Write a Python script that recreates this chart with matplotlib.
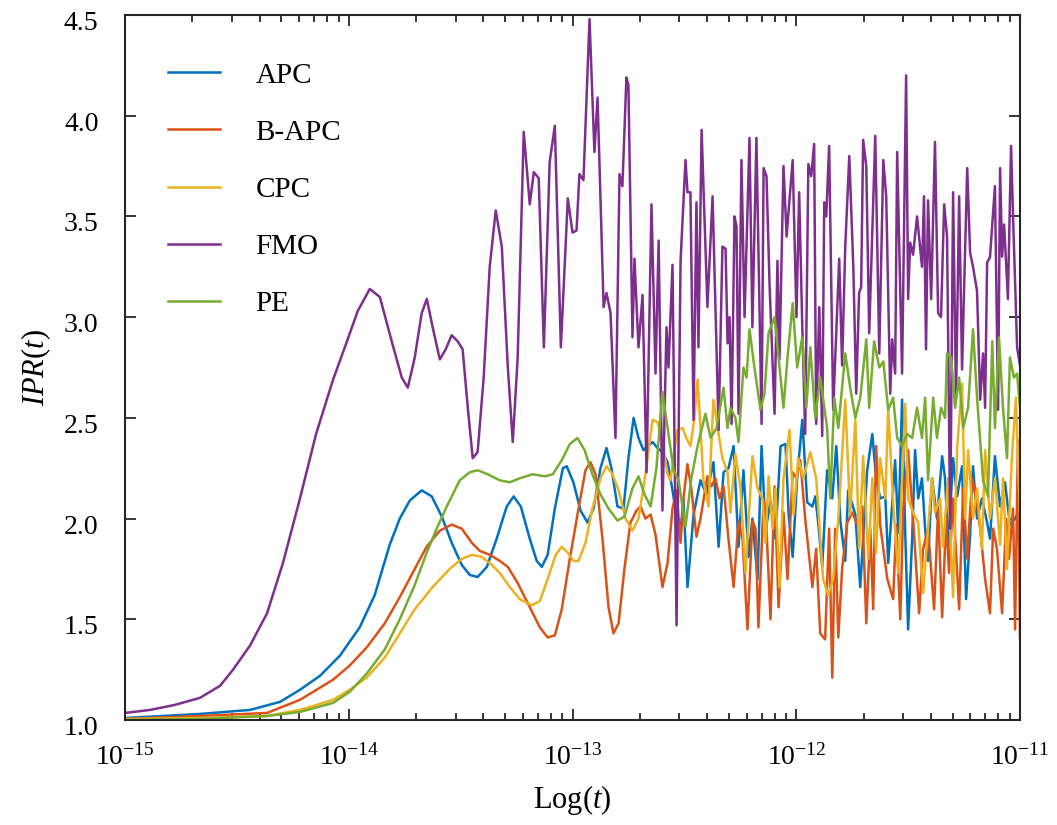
import numpy as np
import matplotlib
matplotlib.use("Agg")
import matplotlib.pyplot as plt
from matplotlib.ticker import LogLocator, FixedLocator, FuncFormatter, NullFormatter
from matplotlib.transforms import ScaledTranslation

plt.rcParams['font.family'] = ['Liberation Serif', 'DejaVu Serif']
plt.rcParams['mathtext.fontset'] = 'custom'
plt.rcParams['mathtext.rm'] = 'Liberation Serif'
plt.rcParams['mathtext.it'] = 'Liberation Serif:italic'
plt.rcParams['mathtext.bf'] = 'Liberation Serif:bold'

labels = ['APC', 'B-APC', 'CPC', 'FMO', 'PE']
colors = ['#0072BD', '#D95319', '#EDB120', '#7E2F8E', '#77AC30']

# log10(t) and IPR values
apc_logt = [-15.000, -14.665, -14.441, -14.307, -14.218, -14.128, -14.039, -13.951, -13.884, -13.817,
            -13.772, -13.727, -13.674, -13.629, -13.584, -13.540, -13.495, -13.459, -13.424, -13.383,
            -13.339, -13.294, -13.263, -13.231, -13.191, -13.160, -13.137, -13.111, -13.079, -13.043,
            -13.026, -12.996, -12.964, -12.933, -12.906, -12.875, -12.848, -12.826, -12.799, -12.772,
            -12.750, -12.727, -12.705, -12.683, -12.642, -12.620, -12.598, -12.575, -12.553, -12.531,
            -12.517, -12.504, -12.486, -12.459, -12.428, -12.401, -12.370, -12.347, -12.325, -12.303,
            -12.280, -12.258, -12.236, -12.213, -12.196, -12.173, -12.155, -12.137, -12.115, -12.093,
            -12.070, -12.048, -12.034, -12.016, -11.996, -11.973, -11.951, -11.928, -11.915, -11.902,
            -11.884, -11.862, -11.839, -11.821, -11.803, -11.781, -11.768, -11.736, -11.714, -11.683,
            -11.660, -11.643, -11.625, -11.602, -11.589, -11.558, -11.544, -11.527, -11.513, -11.500,
            -11.482, -11.469, -11.455, -11.438, -11.424, -11.411, -11.393, -11.371, -11.348, -11.335,
            -11.321, -11.299, -11.281, -11.259, -11.241, -11.223, -11.210, -11.192, -11.170, -11.147,
            -11.134, -11.112, -11.089, -11.067, -11.045, -11.022, -11.000]
apc_ipr = [1.01, 1.03, 1.05, 1.09, 1.15, 1.22, 1.32, 1.46, 1.62, 1.87,
           2.00, 2.09, 2.14, 2.11, 2.01, 1.88, 1.77, 1.72, 1.71, 1.76,
           1.90, 2.06, 2.11, 2.06, 1.90, 1.79, 1.76, 1.82, 2.05, 2.25,
           2.26, 2.18, 2.04, 1.98, 2.05, 2.25, 2.35, 2.25, 2.06, 2.05,
           2.30, 2.50, 2.40, 2.34, 2.38, 2.35, 2.33, 2.28, 2.14, 1.98,
           1.94, 2.09, 1.66, 2.02, 2.19, 2.12, 2.28, 1.86, 2.23, 2.25,
           2.36, 1.86, 2.24, 1.81, 2.00, 1.70, 2.36, 1.94, 2.09, 1.90,
           2.36, 2.37, 2.02, 1.81, 2.20, 2.49, 2.08, 2.06, 2.11, 1.98,
           1.76, 2.24, 2.10, 2.36, 1.99, 1.79, 2.14, 2.02, 1.66, 2.24,
           2.42, 2.20, 2.10, 2.11, 1.78, 2.29, 1.93, 2.59, 1.93, 1.45,
           1.90, 2.34, 2.10, 2.20, 1.95, 1.79, 2.20, 2.00, 2.31, 2.20,
           1.86, 2.30, 2.11, 2.26, 1.60, 1.92, 2.26, 2.00, 2.10, 1.98,
           1.90, 2.31, 2.06, 2.18, 1.97, 2.00, 2.05]

bapc_logt = [-15.000, -14.665, -14.365, -14.218, -14.070, -13.996, -13.920, -13.839, -13.772, -13.705,
             -13.652, -13.593, -13.540, -13.495, -13.450, -13.415, -13.370, -13.325, -13.289, -13.245,
             -13.191, -13.146, -13.111, -13.079, -13.048, -13.012, -12.973, -12.942, -12.920, -12.897,
             -12.866, -12.839, -12.817, -12.794, -12.768, -12.741, -12.714, -12.696, -12.674, -12.651,
             -12.629, -12.598, -12.575, -12.553, -12.535, -12.517, -12.504, -12.486, -12.469, -12.446,
             -12.428, -12.397, -12.379, -12.361, -12.343, -12.325, -12.303, -12.280, -12.258, -12.240,
             -12.218, -12.196, -12.182, -12.169, -12.146, -12.133, -12.115, -12.097, -12.079, -12.057,
             -12.039, -12.016, -11.999, -11.982, -11.960, -11.928, -11.911, -11.893, -11.871, -11.853,
             -11.839, -11.826, -11.812, -11.795, -11.772, -11.750, -11.727, -11.705, -11.687, -11.669,
             -11.656, -11.643, -11.625, -11.593, -11.567, -11.553, -11.535, -11.522, -11.500, -11.478,
             -11.451, -11.433, -11.411, -11.384, -11.366, -11.348, -11.330, -11.317, -11.299, -11.272,
             -11.254, -11.236, -11.214, -11.196, -11.178, -11.156, -11.134, -11.120, -11.103, -11.080,
             -11.062, -11.049, -11.031, -11.022, -11.009, -11.000]
bapc_ipr = [1.005, 1.02, 1.035, 1.10, 1.20, 1.27, 1.36, 1.48, 1.61, 1.75,
            1.86, 1.94, 1.97, 1.95, 1.88, 1.84, 1.82, 1.79, 1.76, 1.68,
            1.56, 1.46, 1.41, 1.42, 1.55, 1.80, 2.05, 2.24, 2.28, 2.22,
            1.90, 1.56, 1.43, 1.48, 1.75, 1.98, 2.04, 2.06, 2.00, 2.02,
            1.92, 1.66, 1.78, 2.05, 2.14, 1.88, 2.10, 2.27, 2.15, 1.91,
            2.00, 2.21, 2.16, 2.20, 2.10, 2.16, 1.90, 1.66, 1.99, 1.90,
            1.45, 1.99, 1.95, 1.46, 2.09, 1.95, 1.50, 2.16, 1.56, 2.03,
            1.70, 2.23, 2.20, 2.29, 2.00, 1.66, 1.85, 1.43, 1.40, 1.95,
            1.21, 1.95, 1.41, 1.75, 1.98, 2.03, 1.97, 2.06, 1.48, 1.95,
            1.55, 2.36, 1.97, 1.70, 1.60, 1.97, 1.50, 2.05, 2.34, 2.00,
            1.53, 1.85, 1.95, 1.55, 2.05, 1.51, 2.00, 1.73, 2.10, 1.55,
            2.15, 1.80, 2.20, 2.10, 1.95, 1.70, 1.53, 1.95, 1.85, 1.53,
            2.00, 1.80, 2.05, 1.45, 2.39, 1.41]

cpc_logt = [-15.000, -14.665, -14.365, -14.218, -14.070, -13.996, -13.920, -13.839, -13.772, -13.705,
            -13.625, -13.549, -13.495, -13.450, -13.405, -13.361, -13.325, -13.280, -13.236, -13.182,
            -13.146, -13.111, -13.075, -13.048, -13.021, -12.996, -12.973, -12.942, -12.911, -12.875,
            -12.848, -12.821, -12.794, -12.763, -12.732, -12.705, -12.674, -12.642, -12.620, -12.598,
            -12.575, -12.562, -12.549, -12.531, -12.508, -12.491, -12.473, -12.455, -12.441, -12.428,
            -12.415, -12.392, -12.370, -12.347, -12.330, -12.307, -12.294, -12.272, -12.249, -12.227,
            -12.196, -12.173, -12.151, -12.137, -12.124, -12.106, -12.093, -12.075, -12.057, -12.030,
            -12.012, -11.991, -11.969, -11.937, -11.911, -11.880, -11.857, -11.835, -11.812, -11.781,
            -11.759, -11.736, -11.719, -11.701, -11.678, -11.660, -11.643, -11.625, -11.602, -11.589,
            -11.567, -11.544, -11.513, -11.500, -11.478, -11.455, -11.433, -11.411, -11.393, -11.380,
            -11.357, -11.344, -11.321, -11.299, -11.281, -11.259, -11.245, -11.232, -11.210, -11.192,
            -11.170, -11.156, -11.134, -11.112, -11.089, -11.076, -11.058, -11.036, -11.018, -11.000]
cpc_ipr = [1.005, 1.01, 1.02, 1.05, 1.10, 1.15, 1.21, 1.31, 1.43, 1.55,
           1.66, 1.75, 1.80, 1.82, 1.81, 1.77, 1.73, 1.66, 1.60, 1.57,
           1.59, 1.70, 1.82, 1.86, 1.83, 1.79, 1.79, 1.88, 2.05, 2.20,
           2.26, 2.22, 2.14, 2.00, 1.94, 2.00, 2.22, 2.49, 2.48, 2.38,
           2.22, 2.19, 2.30, 2.44, 2.45, 2.40, 2.36, 2.50, 2.69, 2.45,
           2.19, 2.06, 2.59, 2.42, 2.30, 2.23, 2.03, 2.32, 2.15, 1.73,
           2.31, 2.15, 2.10, 1.88, 2.21, 1.95, 2.15, 1.66, 2.20, 2.44,
           2.02, 2.30, 2.20, 2.33, 2.20, 1.70, 1.62, 1.70, 2.00, 2.59,
           2.02, 2.49, 1.85, 2.31, 1.80, 2.20, 1.83, 2.30, 2.10, 2.55,
           2.08, 1.73, 2.57, 2.10, 2.03, 1.98, 1.63, 1.95, 2.20, 2.03,
           2.10, 1.86, 2.20, 1.61, 2.35, 2.67, 2.00, 2.34, 2.00, 2.15,
           1.85, 2.34, 2.00, 2.20, 1.87, 2.20, 1.75, 2.31, 2.60, 2.00]

fmo_logt = [-15.000, -14.888, -14.777, -14.665, -14.575, -14.517, -14.441, -14.365, -14.294, -14.218,
            -14.146, -14.070, -14.008, -13.960, -13.906, -13.861, -13.808, -13.763, -13.736, -13.705,
            -13.674, -13.651, -13.625, -13.593, -13.567, -13.540, -13.513, -13.491, -13.468, -13.446,
            -13.424, -13.397, -13.370, -13.343, -13.316, -13.289, -13.267, -13.245, -13.218, -13.191,
            -13.173, -13.151, -13.128, -13.102, -13.079, -13.052, -13.021, -13.000, -12.982, -12.969,
            -12.951, -12.924, -12.902, -12.888, -12.861, -12.848, -12.830, -12.808, -12.790, -12.777,
            -12.759, -12.750, -12.732, -12.723, -12.705, -12.687, -12.669, -12.647, -12.629, -12.615,
            -12.598, -12.580, -12.571, -12.553, -12.535, -12.517, -12.495, -12.486, -12.473, -12.459,
            -12.446, -12.437, -12.423, -12.397, -12.374, -12.347, -12.330, -12.316, -12.307, -12.298,
            -12.289, -12.276, -12.267, -12.258, -12.245, -12.231, -12.209, -12.196, -12.178, -12.155,
            -12.146, -12.133, -12.119, -12.097, -12.084, -12.075, -12.057, -12.043, -12.034, -12.016,
            -11.999, -11.987, -11.973, -11.960, -11.946, -11.933, -11.920, -11.911, -11.897, -11.884,
            -11.875, -11.866, -11.853, -11.835, -11.808, -11.795, -11.781, -11.763, -11.745, -11.732,
            -11.719, -11.710, -11.701, -11.687, -11.674, -11.647, -11.629, -11.611, -11.598, -11.580,
            -11.571, -11.558, -11.549, -11.527, -11.509, -11.500, -11.491, -11.478, -11.460, -11.438,
            -11.429, -11.420, -11.411, -11.397, -11.380, -11.366, -11.353, -11.339, -11.326, -11.312,
            -11.299, -11.286, -11.272, -11.259, -11.236, -11.223, -11.210, -11.192, -11.178, -11.165,
            -11.156, -11.147, -11.134, -11.112, -11.098, -11.089, -11.080, -11.071, -11.054, -11.040,
            -11.031, -11.013, -11.000]
fmo_ipr = [1.035, 1.05, 1.075, 1.11, 1.17, 1.25, 1.37, 1.53, 1.78, 2.10,
           2.42, 2.69, 2.88, 3.03, 3.14, 3.10, 2.88, 2.70, 2.65, 2.80,
           3.02, 3.09, 2.95, 2.79, 2.84, 2.91, 2.88, 2.84, 2.55, 2.30,
           2.33, 2.70, 3.25, 3.53, 3.35, 2.75, 2.38, 2.80, 3.92, 3.56,
           3.72, 3.69, 2.85, 3.77, 3.95, 2.85, 3.59, 3.42, 3.43, 3.71,
           3.68, 4.48, 3.82, 4.09, 3.05, 3.12, 3.02, 2.40, 3.71, 3.65,
           4.19, 4.15, 2.90, 3.29, 2.85, 3.11, 2.23, 3.56, 2.72, 3.38,
           2.04, 2.95, 2.75, 3.26, 1.47, 3.28, 3.78, 3.62, 3.62, 2.49,
           3.57, 2.85, 3.93, 3.05, 3.60, 2.44, 3.35, 3.34, 2.87, 3.00,
           2.47, 3.50, 3.45, 2.52, 3.78, 3.00, 3.89, 2.95, 3.89, 2.47,
           3.74, 3.70, 3.15, 2.52, 3.28, 2.79, 3.75, 3.40, 3.53, 3.78,
           3.00, 3.62, 2.95, 2.42, 3.76, 3.70, 3.86, 2.47, 3.05, 2.41,
           3.57, 3.50, 3.85, 2.54, 3.29, 2.76, 3.35, 3.80, 3.25, 2.62,
           3.12, 3.15, 3.88, 3.75, 2.92, 3.90, 2.82, 3.78, 3.60, 2.62,
           2.89, 2.72, 3.82, 2.72, 4.20, 3.09, 3.37, 3.31, 3.50, 3.25,
           3.60, 2.84, 3.58, 3.09, 3.87, 3.02, 3.00, 3.56, 3.40, 1.95,
           3.62, 2.60, 3.60, 2.74, 3.74, 3.32, 3.25, 3.13, 2.59, 2.82,
           2.55, 3.27, 3.30, 3.65, 2.54, 3.74, 3.30, 3.46, 3.09, 3.85,
           3.50, 2.85, 2.76]

pe_logt = [-15.000, -14.665, -14.365, -14.218, -14.070, -13.996, -13.920, -13.839, -13.772, -13.705,
           -13.652, -13.607, -13.562, -13.504, -13.459, -13.424, -13.379, -13.325, -13.280, -13.236,
           -13.178, -13.124, -13.088, -13.048, -13.012, -12.978, -12.946, -12.911, -12.875, -12.839,
           -12.799, -12.768, -12.732, -12.705, -12.678, -12.651, -12.625, -12.598, -12.575, -12.548,
           -12.526, -12.495, -12.469, -12.441, -12.406, -12.383, -12.356, -12.325, -12.307, -12.294,
           -12.272, -12.258, -12.236, -12.222, -12.209, -12.187, -12.160, -12.142, -12.124, -12.097,
           -12.079, -12.057, -12.039, -12.016, -11.996, -11.973, -11.955, -11.937, -11.915, -11.893,
           -11.862, -11.848, -11.830, -11.812, -11.781, -11.759, -11.736, -11.714, -11.687, -11.674,
           -11.652, -11.629, -11.611, -11.589, -11.567, -11.549, -11.527, -11.504, -11.482, -11.460,
           -11.438, -11.424, -11.411, -11.388, -11.371, -11.353, -11.335, -11.326, -11.308, -11.290,
           -11.272, -11.254, -11.232, -11.210, -11.192, -11.165, -11.143, -11.124, -11.112, -11.094,
           -11.076, -11.058, -11.045, -11.027, -11.013, -11.000]
pe_ipr = [1.0, 1.005, 1.02, 1.04, 1.085, 1.14, 1.23, 1.35, 1.50, 1.67,
          1.83, 1.95, 2.06, 2.19, 2.23, 2.24, 2.22, 2.19, 2.18, 2.20,
          2.22, 2.21, 2.22, 2.29, 2.37, 2.40, 2.34, 2.22, 2.12, 2.05,
          1.99, 2.01, 2.15, 2.21, 2.12, 2.06, 2.25, 2.63, 2.45, 2.24,
          2.19, 1.96, 2.20, 2.36, 2.52, 2.40, 2.45, 2.65, 2.45, 2.55,
          2.50, 2.38, 2.75, 2.70, 2.94, 2.75, 2.54, 2.62, 2.92, 3.00,
          2.80, 2.55, 2.80, 3.07, 2.75, 2.90, 2.55, 2.85, 2.50, 2.70,
          2.45, 2.10, 2.60, 2.45, 2.82, 2.65, 2.50, 2.60, 2.89, 2.55,
          2.88, 2.75, 2.78, 2.54, 2.60, 2.40, 2.36, 2.42, 2.40, 2.55,
          2.40, 2.60, 2.19, 2.60, 2.40, 2.55, 2.50, 2.82, 2.80, 2.55,
          2.70, 2.45, 2.55, 2.94, 2.60, 2.19, 2.11, 2.88, 2.45, 2.90,
          2.55, 2.30, 2.80, 2.70, 2.72, 2.55]

series_logt = [apc_logt, bapc_logt, cpc_logt, fmo_logt, pe_logt]
series_ipr = [apc_ipr, bapc_ipr, cpc_ipr, fmo_ipr, pe_ipr]

xticks = [1e-15, 1e-14, 1e-13, 1e-12, 1e-11]
yticks = [1.0, 1.5, 2.0, 2.5, 3.0, 3.5, 4.0, 4.5]

fig = plt.figure(figsize=(10.57, 8.25), dpi=100)
ax = fig.add_axes([125/1057, 1 - 720/825, (1020 - 125)/1057, (720 - 15)/825])

for lt, yv, lab, col in zip(series_logt, series_ipr, labels, colors):
    ax.plot(10 ** np.array(lt), yv, color=col, lw=1.8, label=lab)

ax.set_xscale('log')
ax.set_xlim(1e-15, 1e-11)
ax.set_ylim(1.0, 4.5)
ax.xaxis.set_major_locator(FixedLocator(xticks))
ax.xaxis.set_major_formatter(FuncFormatter(lambda v, p: r'$\mathregular{10^{%d}}$' % round(np.log10(v))))
ax.xaxis.set_minor_locator(LogLocator(base=10, subs=np.arange(2, 10), numticks=20))
ax.xaxis.set_minor_formatter(NullFormatter())
ax.yaxis.set_major_locator(FixedLocator(yticks))
ax.yaxis.set_major_formatter(FuncFormatter(lambda v, p: '%.1f' % v))

for s in ax.spines.values():
    s.set_linewidth(1.5)
    s.set_color('#262626')
ax.tick_params(which='both', direction='in', top=True, right=True, width=1.3, color='#262626')
ax.tick_params(which='major', length=8, labelsize=20)
ax.tick_params(which='minor', length=5)
ax.tick_params(axis='x', which='major', pad=17)
ax.tick_params(axis='y', which='major', pad=19)

# y tick labels sit slightly below their ticks in the reference
offset = ScaledTranslation(0, -4 / 72, fig.dpi_scale_trans)
for lbl in ax.get_yticklabels():
    lbl.set_transform(lbl.get_transform() + offset)

ax.set_xlabel(r'Log$(t)$', fontsize=22, labelpad=9)
ax.set_ylabel(r'$\mathit{IPR}(t)$', fontsize=22, labelpad=8)

leg = ax.legend(loc='upper left', bbox_to_anchor=(0.048, 0.933), frameon=False, fontsize=21,
                handlelength=1.8, handletextpad=1.2, labelspacing=1.05,
                borderaxespad=0.0, borderpad=0.0)
for h in leg.get_lines():
    h.set_linewidth(1.8)

fig.savefig('out.png', dpi=100)
